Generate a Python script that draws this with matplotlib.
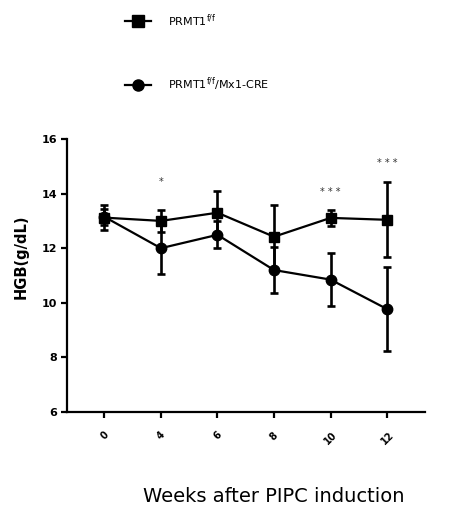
import matplotlib
matplotlib.use("Agg")
import matplotlib.pyplot as plt
from matplotlib.lines import Line2D

weeks = ["0", "4", "6", "8", "10", "12"]
ctrl_mean = [13.12, 13.00, 13.30, 12.42, 13.11, 13.04]
ctrl_err = [0.45, 0.40, 0.80, 1.17, 0.30, 1.37]
cre_mean = [13.15, 12.00, 12.49, 11.20, 10.85, 9.77]
cre_err = [0.30, 0.95, 0.50, 0.85, 0.97, 1.53]
sig_labels = ["", "*", "", "", "* * *", "* * *"]
sig_y = [None, 14.42, None, None, 14.07, 15.12]

plt.rcParams['font.family'] = ['DejaVu Sans']

fig = plt.figure(figsize=(4.57, 5.11), dpi=100)
W, H = 457, 511
ax = fig.add_axes([67 / W, 1 - 412 / H, (425 - 67) / W, (412 - 139) / H])

x = list(range(len(weeks)))
common = dict(color='black', lw=1.6, elinewidth=1.9, capsize=3.2, capthick=1.9)
ax.errorbar(x, ctrl_mean, yerr=ctrl_err, marker='s', ms=7.5, **common)
ax.errorbar(x, cre_mean, yerr=cre_err, marker='o', ms=7.5, **common)

for xi, lab, yy in zip(x, sig_labels, sig_y):
    if lab:
        ax.text(xi, yy, lab, ha='center', va='center', fontsize=7, color='#333333')

ax.set_ylim(6, 16)
ax.set_xlim(-0.66, 5.67)
ax.set_yticks([6, 8, 10, 12, 14, 16])
ax.set_xticks(x)
ax.set_xticklabels(weeks, rotation=45, ha='center', fontweight='bold', fontsize=7)
for t in ax.get_yticklabels():
    t.set_fontweight('bold')
    t.set_fontsize(8)
ax.spines['top'].set_visible(False)
ax.spines['right'].set_visible(False)
for s in ['left', 'bottom']:
    ax.spines[s].set_linewidth(1.6)
ax.tick_params(width=1.6, length=4, direction='out', pad=3)
ax.tick_params(axis='x', pad=9)

ax.set_ylabel("HGB(g/dL)", fontweight='bold', fontsize=10.5)
ax.yaxis.set_label_coords(-0.108, 0.568)
fig.text(274 / W, 1 - 496 / H, "Weeks after PIPC induction", ha='center', va='center', fontsize=14)

handles = [Line2D([], [], color='black', lw=1.6, marker='s', ms=8),
           Line2D([], [], color='black', lw=1.6, marker='o', ms=8)]
labels = [r"PRMT1$^{\mathrm{f/f}}$", r"PRMT1$^{\mathrm{f/f}}$/Mx1-CRE"]
fig.legend(handles, labels, loc='upper left', bbox_to_anchor=(115 / W, 1 - 2 / H),
           frameon=False, fontsize=8, labelspacing=4.2, handlelength=2.3, handletextpad=1.6)

fig.savefig("out.png", dpi=100)
